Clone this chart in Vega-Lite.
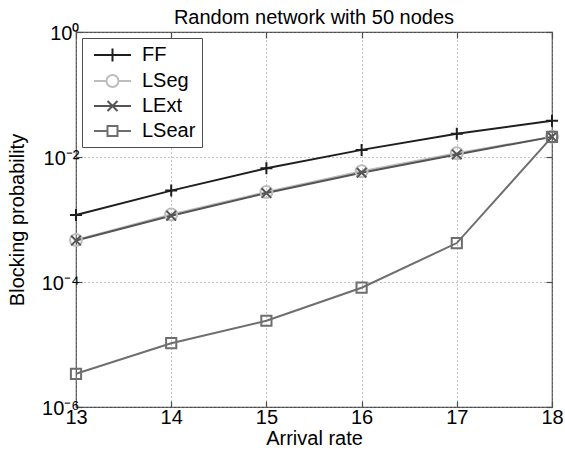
{
  "$schema": "https://vega.github.io/schema/vega-lite/v6.json",
  "autosize": "none",
  "width": 476,
  "height": 375,
  "padding": {"left": 76, "top": 32, "right": 13, "bottom": 49},
  "background": "white",
  "title": {"text": "Random network with 50 nodes", "fontSize": 20, "font": "Liberation Sans", "fontWeight": "normal", "color": "black", "baseline": "bottom", "offset": 4, "frame": "group", "anchor": "middle", "dy": 29},
  "config": {
    "view": {"stroke": "#4d4d4d", "strokeWidth": 1.2},
    "font": "Liberation Sans"
  },
  "data": {"values": [
    {"rate": 13, "series": "FF", "p": 0.00118},
    {"rate": 14, "series": "FF", "p": 0.0029},
    {"rate": 15, "series": "FF", "p": 0.0066},
    {"rate": 16, "series": "FF", "p": 0.013},
    {"rate": 17, "series": "FF", "p": 0.0235},
    {"rate": 18, "series": "FF", "p": 0.038},
    {"rate": 13, "series": "LSeg", "p": 0.00047},
    {"rate": 14, "series": "LSeg", "p": 0.0012},
    {"rate": 15, "series": "LSeg", "p": 0.00275},
    {"rate": 16, "series": "LSeg", "p": 0.0059},
    {"rate": 17, "series": "LSeg", "p": 0.0115},
    {"rate": 18, "series": "LSeg", "p": 0.021},
    {"rate": 13, "series": "LExt", "p": 0.00046},
    {"rate": 14, "series": "LExt", "p": 0.00115},
    {"rate": 15, "series": "LExt", "p": 0.00265},
    {"rate": 16, "series": "LExt", "p": 0.0056},
    {"rate": 17, "series": "LExt", "p": 0.011},
    {"rate": 18, "series": "LExt", "p": 0.021},
    {"rate": 13, "series": "LSear", "p": 0.0000034},
    {"rate": 14, "series": "LSear", "p": 0.0000105},
    {"rate": 15, "series": "LSear", "p": 0.000024},
    {"rate": 16, "series": "LSear", "p": 0.000081},
    {"rate": 17, "series": "LSear", "p": 0.00042},
    {"rate": 18, "series": "LSear", "p": 0.021}
  ]},
  "layer": [
    {
      "mark": {"type": "line", "strokeWidth": 2},
      "encoding": {
        "x": {"field": "rate", "type": "quantitative", "title": "Arrival rate",
          "scale": {"domain": [13, 18], "nice": false, "zero": false},
          "axis": {"values": [13, 14, 15, 16, 17, 18], "format": "d", "domain": false, "tickSize": -6, "tickColor": "#4d4d4d", "tickWidth": 1.2,
            "grid": true, "gridDash": [1, 3], "gridColor": "#888", "gridWidth": 1,
            "labelFontSize": 20, "labelColor": "black", "labelPadding": 6, "labelFlush": false,
            "titleFontSize": 20, "titleFontWeight": "normal", "titleColor": "black", "titlePadding": 1}},
        "y": {"field": "p", "type": "quantitative", "title": "Blocking probability",
          "scale": {"type": "log", "domain": [0.000001, 1], "nice": false},
          "axis": {"values": [0.000001, 0.0001, 0.01, 1], "domain": false, "tickSize": -6, "tickColor": "#4d4d4d", "tickWidth": 1.2,
            "grid": true, "gridDash": [1, 3], "gridColor": "#888", "gridWidth": 1,
            "labelExpr": "round(log(datum.value)/LN10) == 0 ? '10⁰' : round(log(datum.value)/LN10) == -2 ? '10⁻²' : round(log(datum.value)/LN10) == -4 ? '10⁻⁴' : '10⁻⁶'",
            "labelFontSize": 20, "labelColor": "black", "labelPadding": 3, "labelFlush": false, "labelOffset": 1,
            "titleFontSize": 20, "titleFontWeight": "normal", "titleColor": "black", "titlePadding": 14}},
        "color": {"field": "series", "type": "nominal",
          "scale": {"domain": ["FF", "LSeg", "LExt", "LSear"], "range": ["#1e1e1e", "#bdbdbd", "#555555", "#6e6e6e"]},
          "legend": {"title": null, "orient": "none", "legendX": 6, "legendY": 6,
            "fillColor": "white", "strokeColor": "#4d4d4d", "padding": 6,
            "labelFontSize": 20, "labelColor": "black", "labelFont": "Liberation Sans",
            "labelExpr": "datum.label + '\u2002\u2002'",
            "symbolSize": 400, "symbolOffset": 13.5, "labelOffset": 18.5, "rowPadding": 4,
            "symbolStrokeWidth": 2,
            "encode": {"symbols": {"update": {
              "shape": {"signal": "datum.value == 'FF' ? 'M-1.85,0H1.85M0,-0.65V0.65' : datum.value == 'LSeg' ? 'M-1.85,0H-0.6M0.6,0H1.85M-0.6,0A0.6,0.6 0 1 0 0.6,0A0.6,0.6 0 1 0 -0.6,0' : datum.value == 'LExt' ? 'M-1.85,0H1.85M-0.5,-0.5L0.5,0.5M-0.5,0.5L0.5,-0.5' : 'M-1.85,0H-0.5M0.5,0H1.85M-0.5,-0.5H0.5V0.5H-0.5Z'"},
              "fill": {"value": "transparent"},
              "strokeWidth": {"value": 2}
            }}}
          }}
      }
    },
    {
      "transform": [{"filter": "datum.series == 'FF'"}],
      "mark": {"type": "point", "filled": false, "strokeWidth": 2, "size": 144, "opacity": 1, "shape": "M-1,0H1M0,-1V1"},
      "encoding": {
        "x": {"field": "rate", "type": "quantitative", "scale": {"domain": [13, 18], "nice": false, "zero": false},
          "axis": {"orient": "top", "values": [13, 14, 15, 16, 17, 18], "labels": false, "domain": false, "grid": false, "title": null, "tickSize": -6, "tickColor": "#4d4d4d", "tickWidth": 1.2}},
        "y": {"field": "p", "type": "quantitative", "scale": {"type": "log", "domain": [0.000001, 1], "nice": false},
          "axis": {"orient": "right", "values": [0.000001, 0.0001, 0.01, 1], "labels": false, "domain": false, "grid": false, "title": null, "tickSize": -6, "tickColor": "#4d4d4d", "tickWidth": 1.2}},
        "color": {"field": "series", "type": "nominal", "legend": null}
      }
    },
    {
      "transform": [{"filter": "datum.series == 'LSeg'"}],
      "mark": {"type": "point", "filled": false, "strokeWidth": 2, "size": 144, "opacity": 1, "shape": "circle"},
      "encoding": {
        "x": {"field": "rate", "type": "quantitative", "axis": null},
        "y": {"field": "p", "type": "quantitative", "axis": null},
        "color": {"field": "series", "type": "nominal", "legend": null}
      }
    },
    {
      "transform": [{"filter": "datum.series == 'LExt'"}],
      "mark": {"type": "point", "filled": false, "strokeWidth": 2, "size": 144, "opacity": 1, "shape": "M-0.8,-0.8L0.8,0.8M-0.8,0.8L0.8,-0.8"},
      "encoding": {
        "x": {"field": "rate", "type": "quantitative", "axis": null},
        "y": {"field": "p", "type": "quantitative", "axis": null},
        "color": {"field": "series", "type": "nominal", "legend": null}
      }
    },
    {
      "transform": [{"filter": "datum.series == 'LSear'"}],
      "mark": {"type": "point", "filled": false, "strokeWidth": 2, "size": 144, "opacity": 1, "shape": "M-0.85,-0.85H0.85V0.85H-0.85Z"},
      "encoding": {
        "x": {"field": "rate", "type": "quantitative", "axis": null},
        "y": {"field": "p", "type": "quantitative", "axis": null},
        "color": {"field": "series", "type": "nominal", "legend": null}
      }
    }
  ],
  "resolve": {"axis": {"x": "independent", "y": "independent"}}
}
